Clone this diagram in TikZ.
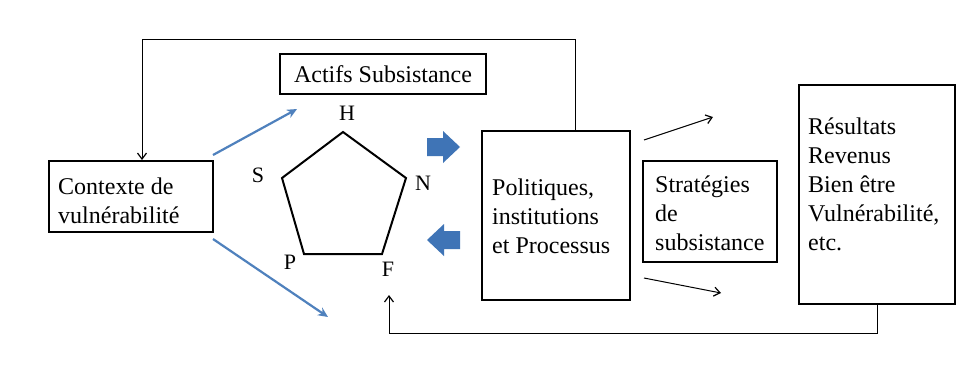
\documentclass[tikz,border=0pt]{standalone}
\usepackage{fontspec}
\setmainfont{Liberation Serif}
\usetikzlibrary{arrows.meta}
\definecolor{lineblue}{HTML}{4F81BD}
\definecolor{blockblue}{HTML}{3F74B6}
\begin{document}
\begin{tikzpicture}[x=1pt,y=-1pt,
  box/.style={draw, line width=2pt, inner sep=0pt},
  txt/.style={font=\fontsize{24}{29}\selectfont, align=left, inner sep=0pt, anchor=west},
  lbl/.style={font=\fontsize{22}{26}\selectfont, inner sep=0pt},
  conn/.style={line width=1pt, -{Straight Barb[length=6pt,width=9pt,line width=1.2pt]}},
  blue/.style={draw=lineblue, line width=2.2pt, -{Stealth[length=10pt,width=9pt]}},
  block/.style={fill=blockblue, draw=none}]
\useasboundingbox (0,0) rectangle (976,373);
\fill[white] (0,0) rectangle (976,373);

% boxes
\node[box, minimum width=164pt, minimum height=71pt] (ctx) at (131,196.5) {};
\node[box, minimum width=206pt, minimum height=40pt, font=\fontsize{24}{29}\selectfont] (act) at (383,74) {Actifs Subsistance};
\node[box, minimum width=148pt, minimum height=169pt] (pol) at (556,215.5) {};
\node[box, minimum width=134pt, minimum height=101pt] (str) at (710,211.5) {};
\node[box, minimum width=156pt, minimum height=219pt] (res) at (877,194.5) {};

% texts
\node[txt] (ctxT) at (58,200.5) {Contexte de\\vulnérabilité};
\node[txt] (polT) at (492,216) {Politiques,\\institutions\\et Processus};
\node[txt] (strT) at (655,213.5) {Stratégies\\de\\subsistance};
\node[txt] (resT) at (808,184.5) {Résultats\\Revenus\\Bien être\\Vulnérabilité,\\etc.};

% pentagon
\coordinate (vH) at (343,132);
\coordinate (vN) at (406,178);
\coordinate (vF) at (382,254);
\coordinate (vP) at (304,254);
\coordinate (vS) at (282,178);
\draw[line width=2pt, line join=miter] (vH) -- (vN) -- (vF) -- (vP) -- (vS) -- cycle;
\node[lbl] (lH) at (347,113) {H};
\node[lbl] (lS) at (258,175) {S};
\node[lbl] (lN) at (423,183) {N};
\node[lbl] (lP) at (290,262) {P};
\node[lbl] (lF) at (388,269) {F};

% block arrows
\fill[block] (427,138) -- (443,138) -- (443,131) -- (460,147) -- (443,163) -- (443,156) -- (427,156) -- cycle;
\fill[block] (460,231) -- (444,231) -- (444,224) -- (427,240) -- (444,256) -- (444,249) -- (460,249) -- cycle;

% blue arrows
\coordinate (b1s) at (213,155);
\coordinate (b1e) at (297,109);
\coordinate (b2s) at (213,239);
\coordinate (b2e) at (328,317);
\draw[blue] (b1s) -- (b1e);
\draw[blue] (b2s) -- (b2e);

% black small arrows
\coordinate (s1s) at (644,140);
\coordinate (s1e) at (713,117);
\coordinate (s2s) at (644,278);
\coordinate (s2e) at (721,293);
\draw[conn] (s1s) -- (s1e);
\draw[conn] (s2s) -- (s2e);

% top loop
\coordinate (tl) at (142,39);
\coordinate (tr) at (575,39);
\draw[conn] (pol.north -| tr) -- (tr) -- (tl) -- (ctx.north -| tl);

% bottom loop
\coordinate (bl) at (389,333);
\coordinate (fend) at (389,295);
\draw[conn] (res.south) -- (res.south |- bl) -- (bl) -- (fend);
\end{tikzpicture}
\end{document}
